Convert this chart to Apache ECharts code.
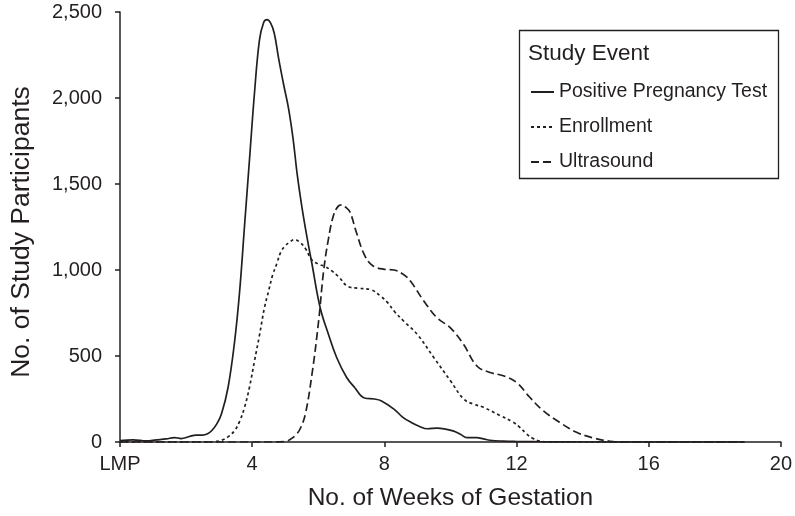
<!DOCTYPE html>
<html><head><meta charset="utf-8">
<script src="https://cdn.jsdelivr.net/npm/echarts@6/dist/echarts.min.js"></script>
<style>html,body{margin:0;padding:0;background:#fff}#c{width:795px;height:516px}</style>
</head><body><div id="c"></div>
<script>
const xTicks = [0, 4, 8, 12, 16, 20];
const xTickLabels = ['LMP', '4', '8', '12', '16', '20'];
const seriesNames = ['Positive Pregnancy Test', 'Enrollment', 'Ultrasound'];

const posWeeks = [0, 0.4, 0.8, 1.1, 1.4, 1.65, 1.85, 2.1, 2.3, 2.5, 2.65, 2.78, 2.93, 3.07, 3.27, 3.47, 3.62, 3.77, 3.92, 4.07, 4.22, 4.35, 4.45, 4.56, 4.67, 4.8, 4.95, 5.1, 5.24, 5.36, 5.51, 5.66, 5.81, 6.06, 6.31, 6.56, 6.86, 7.1, 7.4, 7.7, 7.9, 8.3, 8.55, 8.8, 9.05, 9.3, 9.6, 9.85, 10.1, 10.3, 10.5, 10.8, 11.0, 11.2, 11.6, 12.0, 12.5, 13.0, 14.0, 16.0, 18.9];
const posCounts = [8, 12, 6, 12, 18, 26, 20, 32, 40, 40, 48, 67, 105, 163, 317, 587, 875, 1260, 1645, 2029, 2337, 2440, 2456, 2435, 2375, 2230, 2080, 1940, 1760, 1560, 1360, 1190, 1035, 779, 625, 490, 375, 317, 256, 250, 240, 190, 145, 115, 92, 77, 81, 75, 63, 45, 25, 25, 18, 10, 5, 3, 2, 1, 0, 0, 0];

const enrWeeks = [0, 2.5, 2.9, 3.07, 3.27, 3.47, 3.62, 3.77, 3.92, 4.07, 4.22, 4.37, 4.5, 4.62, 4.75, 4.87, 5.0, 5.15, 5.28, 5.45, 5.61, 5.81, 6.0, 6.21, 6.41, 6.61, 6.9, 7.2, 7.6, 7.9, 8.1, 8.3, 8.6, 9.0, 9.5, 10.0, 10.4, 10.7, 11.0, 11.5, 11.9, 12.1, 12.3, 12.5, 12.7, 13.0, 14.0, 16.0, 18.9];
const enrCounts = [0, 0, 3, 10, 30, 67, 120, 202, 320, 471, 620, 779, 880, 971, 1040, 1106, 1140, 1165, 1177, 1160, 1125, 1058, 1035, 1020, 995, 962, 904, 894, 885, 846, 810, 760, 700, 625, 490, 356, 250, 220, 202, 154, 115, 85, 48, 20, 5, 0, 0, 0, 0];

const usWeeks = [0, 4.5, 5.0, 5.15, 5.31, 5.46, 5.61, 5.81, 6.01, 6.16, 6.31, 6.46, 6.6, 6.71, 6.83, 6.96, 7.15, 7.4, 7.65, 8.0, 8.3, 8.6, 8.8, 9.2, 9.6, 10.0, 10.4, 10.8, 11.2, 11.6, 12.0, 12.4, 12.8, 13.3, 13.8, 14.3, 14.8, 15.3, 16.0, 18.9];
const usCounts = [0, 0, 3, 15, 38, 80, 163, 394, 702, 991, 1183, 1317, 1370, 1379, 1365, 1337, 1221, 1087, 1025, 1004, 1000, 971, 933, 818, 721, 664, 567, 442, 404, 385, 346, 260, 183, 115, 58, 25, 5, 0, 0, 0];

const ink = '#231f20';
const font = '"Liberation Sans", Arial, Helvetica, sans-serif';
const zip = (xs, ys) => xs.map((x, i) => [x, ys[i]]);

function lineSeries(name, xs, ys, type) {
  return {
    name, type: 'line', data: zip(xs, ys),
    symbol: 'none', showSymbol: false, smooth: 0.4,
    color: ink,
    lineStyle: { color: ink, width: 1.7, type: type }
  };
}

const chart = echarts.init(document.getElementById('c'), null, { renderer: 'canvas' });
chart.setOption({
  animation: false,
  backgroundColor: '#fff',
  textStyle: { fontFamily: font, color: ink },
  grid: { left: 112, right: 12, top: 12, bottom: 71, containLabel: false },
  xAxis: {
    type: 'value', min: 0, max: 20, interval: 4,
    name: 'No. of Weeks of Gestation', nameLocation: 'middle', nameGap: 44,
    nameTextStyle: { fontSize: 24.5, color: ink, fontFamily: font },
    axisLine: { lineStyle: { color: ink, width: 1.5 } },
    axisTick: { inside: false, length: 5, lineStyle: { color: ink, width: 1.5 } },
    splitLine: { show: false },
    axisLabel: { fontSize: 20, color: ink, fontFamily: font, margin: 12,
      formatter: v => { const i = xTicks.indexOf(v); return i >= 0 ? xTickLabels[i] : ''; } }
  },
  yAxis: {
    type: 'value', min: 0, max: 2500, interval: 500,
    name: 'No. of Study Participants', nameLocation: 'middle', nameGap: 85,
    nameTextStyle: { fontSize: 26.5, color: ink, fontFamily: font, padding: [0, 10, 0, 0] },
    axisLine: { show: true, lineStyle: { color: ink, width: 1.5 } },
    axisTick: { show: true, inside: false, length: 5, lineStyle: { color: ink, width: 1.5 } },
    splitLine: { show: false },
    axisLabel: { fontSize: 20, color: ink, fontFamily: font, margin: 18,
      formatter: v => v.toLocaleString('en-US') }
  },
  legend: {
    orient: 'vertical', left: 525, top: 77,
    itemWidth: 23, itemHeight: 14, itemGap: 15, itemTextGap: 7,
    data: seriesNames,
    itemStyle: { color: 'rgba(0,0,0,0)', borderColor: 'rgba(0,0,0,0)', borderWidth: 0 },
    textStyle: { fontSize: 19.5, lineHeight: 20, color: ink, fontFamily: font }
  },
  graphic: [
    { type: 'rect', left: 517, top: 28, shape: { width: 259, height: 148 },
      style: { fill: 'none', stroke: ink, lineWidth: 1.3 } },
    { type: 'text', left: 528, top: 42.5,
      style: { text: 'Study Event', fontSize: 22.5, fill: ink, fontFamily: font } }
  ],
  series: [
    lineSeries(seriesNames[0], posWeeks, posCounts, 'solid'),
    lineSeries(seriesNames[1], enrWeeks, enrCounts, [3, 3]),
    lineSeries(seriesNames[2], usWeeks, usCounts, [8, 4])
  ]
});
</script>
</body></html>
